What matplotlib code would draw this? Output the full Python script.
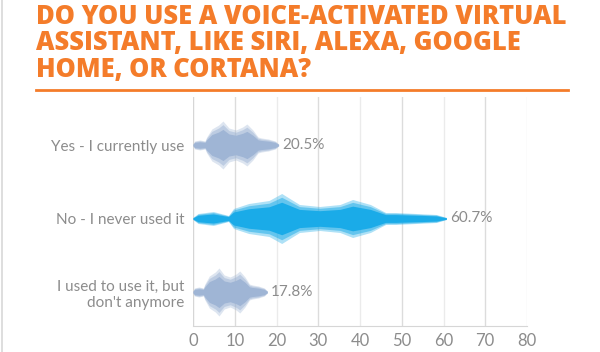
import numpy as np
import matplotlib
matplotlib.use("Agg")
import matplotlib.pyplot as plt

# ---------------------------------------------------------------
# Data
# ---------------------------------------------------------------
CATEGORIES = [
    "Yes - I currently use",
    "No - I never used it",
    "I used to use it, but\ndon't anymore",
]
VALUES = [20.5, 60.7, 17.8]
VALUE_LABELS = ["20.5%", "60.7%", "17.8%"]
X_TICKS = [0, 10, 20, 30, 40, 50, 60, 70, 80]

# ---------------------------------------------------------------
# Style
# ---------------------------------------------------------------
W, H = 600, 352
ORANGE = "#f47c2a"
GRAY_TXT = "#8c8c8c"
BAR_COLORS = ["#9fb5d5", "#1aabe8", "#9fb5d5"]
PX_PER_CAT = 73.5

# sound-wave envelope (fraction of bar length, half-height in px)
ENV_FRAC = [0.0, 0.02, 0.08, 0.14, 0.16, 0.22, 0.30, 0.35, 0.42, 0.50,
            0.58, 0.63, 0.70, 0.76, 0.80, 0.88, 0.96, 1.0]
ENV_AMP = {
    "soft": [1, 4, 5, 4, 8, 16, 20, 24, 17, 15, 18, 21, 15, 8, 7, 6, 4, 1],
    "flat": [1, 5, 7, 3, 10, 15, 18, 25, 14, 12, 14, 19, 14, 6, 6, 5, 4, 1],
}
ENV_KIND = ["soft", "flat", "soft"]

plt.rcParams["font.family"] = ["Lato", "DejaVu Sans"]

fig = plt.figure(figsize=(W / 100, H / 100), dpi=100)
fig.patch.set_facecolor("white")


def fx(x):
    return x / W


def fy(y):
    return 1 - y / H


# left border line
fig.add_artist(plt.Line2D([fx(2), fx(2)], [0, 1], color="#d8d8d8", lw=1.2))

# title
title_lines = [
    "DO YOU USE A VOICE-ACTIVATED VIRTUAL",
    "ASSISTANT, LIKE SIRI, ALEXA, GOOGLE",
    "HOME, OR CORTANA?",
]
for k, line in enumerate(title_lines):
    fig.text(fx(36), fy(24 + 26.5 * k), line, color=ORANGE, fontsize=18.4,
             fontweight="heavy", family=["Open Sans", "DejaVu Sans"],
             ha="left", va="baseline")
fig.add_artist(plt.Line2D([fx(36), fx(568)], [fy(90), fy(90)],
                          color=ORANGE, lw=2))

# axes
left, right, top, bottom = 193, 527, 97, 326
ax = fig.add_axes([fx(left), fy(bottom), (right - left) / W, (bottom - top) / H])
ax.set_xlim(0, 80)
ax.set_ylim((bottom - 145) / PX_PER_CAT, (top - 145) / PX_PER_CAT)

for i, (v, c) in enumerate(zip(VALUES, BAR_COLORS)):
    xs = np.array(ENV_FRAC) * v
    amp = np.array(ENV_AMP[ENV_KIND[i]]) / PX_PER_CAT
    for scale, alpha in [(1.0, 0.35), (0.85, 0.5), (0.65, 1.0)]:
        ax.fill_between(xs, i - amp * scale, i + amp * scale, color=c,
                        alpha=alpha, lw=0, zorder=3)
    ax.text(v + 0.9, i, VALUE_LABELS[i], color=GRAY_TXT, fontsize=11,
            ha="left", va="center", zorder=4)

ax.set_xticks(X_TICKS)
ax.set_yticks(range(len(CATEGORIES)))
ax.set_yticklabels(CATEGORIES)
ax.tick_params(axis="both", length=0, colors=GRAY_TXT, labelsize=11)
ax.tick_params(axis="y", pad=6)
ax.tick_params(axis="x", pad=5, labelsize=12)
for lab in ax.get_yticklabels():
    lab.set_multialignment("right")

ax.grid(axis="x", lw=1, zorder=0)
for j, gl in enumerate(ax.xaxis.get_gridlines()):
    gl.set_color("#dcdcdc" if j % 2 else "#ebebeb")
    if j == 0:
        gl.set_color("#d6d6d6")
for s in ["top", "right", "left"]:
    ax.spines[s].set_visible(False)
ax.spines["bottom"].set_color("#d6d6d6")

fig.savefig("out.png", dpi=100, facecolor="white")
